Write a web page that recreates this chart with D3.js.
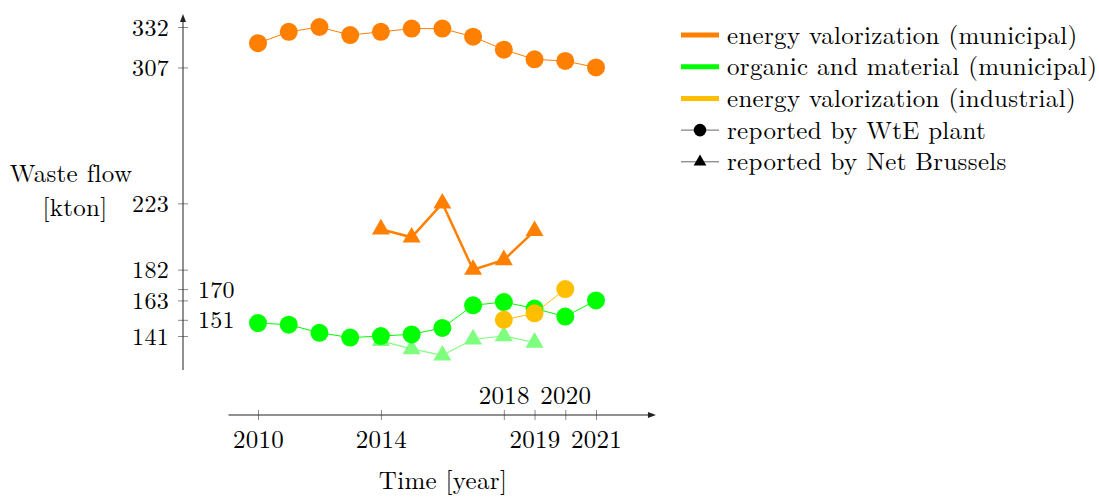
<!DOCTYPE html>
<html>
<head>
<meta charset="utf-8">
<script src="https://cdn.jsdelivr.net/npm/d3@7"></script>
<style>
  body { margin: 0; background: #fff; }
  svg text { font-family: "Latin Modern Roman", "CMU Serif", "Liberation Serif", serif; fill: #000; letter-spacing: 0.3px; }
</style>
</head>
<body>
<svg id="chart" width="1099" height="497"></svg>
<script>
// values
const years = [2010, 2011, 2012, 2013, 2014, 2015, 2016, 2017, 2018, 2019, 2020, 2021];
const energyMunicipalWtE = [322, 329, 332, 327, 329, 331, 331, 326, 318, 312, 311, 307];
const organicMunicipalWtE = [149, 148, 143, 140, 141, 142, 146, 160, 162, 158, 153, 163];

const nbYears = [2014, 2015, 2016, 2017, 2018, 2019];
const energyMunicipalNB = [207, 202, 223, 182, 188, 206];
const organicMunicipalNB = [138, 133, 129, 139, 141, 137];

const industrialYears = [2018, 2019, 2020];
const energyIndustrialWtE = [151, 155, 170];

const xTicks = [2010, 2014, 2018, 2019, 2020, 2021];
const xTicksAbove = [2018, 2020];
const yTicks = [141, 151, 163, 170, 182, 223, 307, 332];
const yTicksRight = [151, 170];

const legendItems = [
    {label: 'energy valorization (municipal)', color: '#ff8000', kind: 'bar'},
    {label: 'organic and material (municipal)', color: '#00ff00', kind: 'bar'},
    {label: 'energy valorization (industrial)', color: '#ffbf00', kind: 'bar'},
    {label: 'reported by WtE plant', color: '#000', kind: 'circle'},
    {label: 'reported by Net Brussels', color: '#000', kind: 'triangle'}
];

const ORANGE = '#ff8000';
const GREEN = '#00ff00';
const YELLOW = '#ffbf00';
const FONT_SIZE = 25;
const TICK_FONT_SIZE = 24;

const svg = d3.select('#chart');

const x = d3.scaleLinear().domain([2010, 2021]).range([258, 596]);
const y = d3.scaleLinear().domain([141, 332]).range([336, 27]);

const Y_AXIS_X = 183;
const X_AXIS_Y = 415;

// y axis
const yAxis = svg.append('g')
    .attr('transform', 'translate(' + Y_AXIS_X + ',0)')
    .call(d3.axisLeft(y).tickValues(yTicks).tickFormat(d3.format('d')).tickSizeOuter(0));
yAxis.select('.domain').remove();
yAxis.selectAll('.tick line')
    .attr('x1', -5).attr('x2', 5)
    .attr('stroke', '#8a8a8a');
yAxis.selectAll('.tick text')
    .attr('font-size', TICK_FONT_SIZE)
    .attr('font-family', null)
    .attr('x', d => yTicksRight.includes(d) ? 15 : -14)
    .attr('text-anchor', d => yTicksRight.includes(d) ? 'start' : 'end')
    .attr('dy', '0.34em');

svg.append('line')
    .attr('x1', Y_AXIS_X).attr('x2', Y_AXIS_X)
    .attr('y1', 370).attr('y2', 17)
    .attr('stroke', '#222').attr('stroke-width', 1);
svg.append('path')
    .attr('d', `M${Y_AXIS_X - 3},${22} L${Y_AXIS_X},${14} L${Y_AXIS_X + 3},${22} Z`)
    .attr('fill', '#222');

// x axis
const xAxis = svg.append('g')
    .attr('transform', 'translate(0,' + X_AXIS_Y + ')')
    .call(d3.axisBottom(x).tickValues(xTicks).tickFormat(d3.format('d')).tickSizeOuter(0));
xAxis.select('.domain').remove();
xAxis.selectAll('.tick line')
    .attr('y1', -5).attr('y2', 5)
    .attr('stroke', '#8a8a8a');
xAxis.selectAll('.tick text')
    .attr('font-size', FONT_SIZE)
    .attr('font-family', null)
    .attr('y', d => xTicksAbove.includes(d) ? -20 : 24)
    .attr('dy', '0.34em');

const axisLeftEnd = x(2009.04);
const axisRightEnd = x(2022.95);
svg.append('line')
    .attr('x1', axisLeftEnd).attr('x2', axisRightEnd - 2)
    .attr('y1', X_AXIS_Y).attr('y2', X_AXIS_Y)
    .attr('stroke', '#222').attr('stroke-width', 1);
svg.append('path')
    .attr('d', `M${axisRightEnd - 8},${X_AXIS_Y - 3} L${axisRightEnd},${X_AXIS_Y} L${axisRightEnd - 8},${X_AXIS_Y + 3} Z`)
    .attr('fill', '#222');

// axis titles
const yLabel = svg.append('text')
    .attr('text-anchor', 'middle')
    .attr('font-size', FONT_SIZE);
yLabel.append('tspan').attr('x', 71).attr('y', 182).text('Waste flow');
yLabel.append('tspan').attr('x', 75).attr('y', 216).text('[kton]');

svg.append('text')
    .attr('x', 443).attr('y', 489)
    .attr('text-anchor', 'middle')
    .attr('font-size', FONT_SIZE)
    .text('Time [year]');

// series
const line = d3.line().x(d => x(d[0])).y(d => y(d[1]));
const triangle = d3.symbol().type(d3.symbolTriangle).size(140);

function drawSeries(xs, vs, opts) {
    const pts = xs.map((yr, i) => [yr, vs[i]]);
    const g = svg.append('g').attr('opacity', opts.opacity || 1);
    g.append('path')
        .attr('d', line(pts))
        .attr('fill', 'none')
        .attr('stroke', opts.color)
        .attr('stroke-width', opts.width);
    if (opts.mark === 'circle') {
        g.selectAll('circle')
            .data(pts)
            .join('circle')
            .attr('cx', d => x(d[0]))
            .attr('cy', d => y(d[1]))
            .attr('r', 9)
            .attr('fill', opts.color);
    } else {
        g.selectAll('path.mark')
            .data(pts)
            .join('path')
            .attr('class', 'mark')
            .attr('d', triangle)
            .attr('transform', d => 'translate(' + x(d[0]) + ',' + y(d[1]) + ')')
            .attr('fill', opts.color);
    }
}

drawSeries(years, energyMunicipalWtE, {color: ORANGE, width: 1, mark: 'circle'});
drawSeries(nbYears, energyMunicipalNB, {color: ORANGE, width: 2.5, mark: 'triangle'});
drawSeries(nbYears, organicMunicipalNB, {color: GREEN, width: 1.2, mark: 'triangle', opacity: 0.5});
drawSeries(years, organicMunicipalWtE, {color: GREEN, width: 1, mark: 'circle'});
drawSeries(industrialYears, energyIndustrialWtE, {color: YELLOW, width: 1, mark: 'circle'});

// legend
const legend = svg.append('g').attr('transform', 'translate(681,35)');
const rows = legend.selectAll('g')
    .data(legendItems)
    .join('g')
    .attr('transform', (d, i) => 'translate(0,' + (i * 31.7) + ')');
rows.filter(d => d.kind === 'bar').append('line')
    .attr('x1', 0).attr('x2', 38)
    .attr('stroke', d => d.color)
    .attr('stroke-width', 5);
rows.filter(d => d.kind !== 'bar').append('line')
    .attr('x1', 0).attr('x2', 38)
    .attr('stroke', '#666')
    .attr('stroke-width', 1);
rows.filter(d => d.kind === 'circle').append('circle')
    .attr('cx', 19).attr('r', 6.3)
    .attr('fill', '#000');
rows.filter(d => d.kind === 'triangle').append('path')
    .attr('d', d3.symbol().type(d3.symbolTriangle).size(70))
    .attr('transform', 'translate(19,0)')
    .attr('fill', '#000');
rows.append('text')
    .attr('x', 46)
    .attr('dy', '0.34em')
    .attr('font-size', FONT_SIZE)
    .text(d => d.label);
</script>
</body>
</html>
